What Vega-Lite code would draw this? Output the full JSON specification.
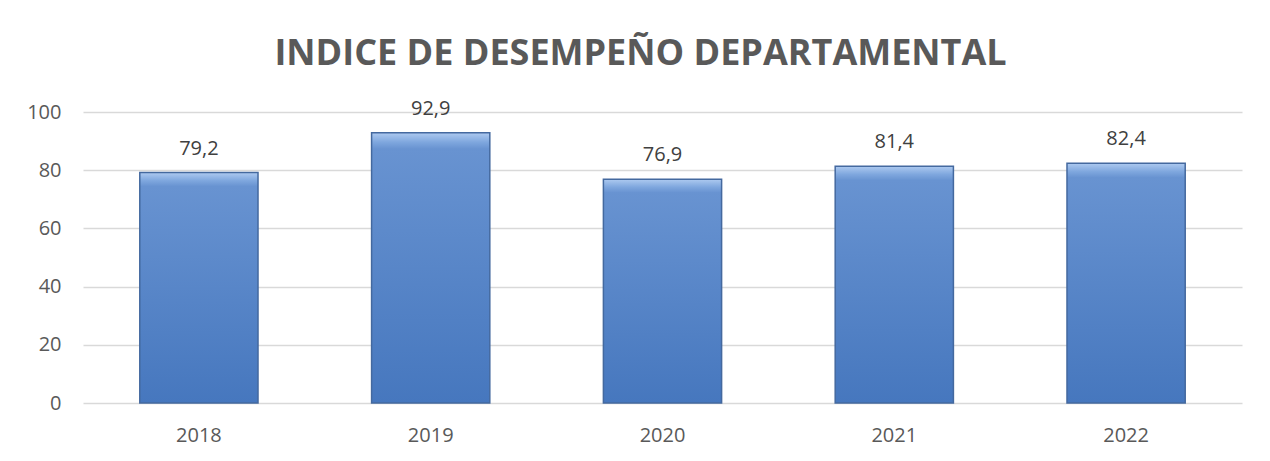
{
  "$schema": "https://vega.github.io/schema/vega-lite/v6.json",
  "autosize": {"type": "none"},
  "width": 1159,
  "height": 291,
  "padding": {"left": 83, "top": 112, "right": 28, "bottom": 58},
  "background": "white",
  "title": {
    "text": "INDICE DE DESEMPEÑO DEPARTAMENTAL",
    "font": "Open Sans",
    "fontSize": 36,
    "fontWeight": "bold",
    "color": "#595959",
    "anchor": "middle",
    "baseline": "alphabetic",
    "offset": -2,
    "dx": -22
  },
  "config": {
    "locale": {"number": {"decimal": ",", "thousands": ".", "grouping": [3], "currency": ["", " €"]}},
    "view": {"stroke": null},
    "font": "Open Sans"
  },
  "data": {
    "values": [
      {"year": "2018", "value": 79.2},
      {"year": "2019", "value": 92.9},
      {"year": "2020", "value": 76.9},
      {"year": "2021", "value": 81.4},
      {"year": "2022", "value": 82.4}
    ]
  },
  "encoding": {
    "x": {
      "field": "year", "type": "nominal", "sort": null,
      "scale": {"paddingInner": 0.49, "paddingOuter": 0.245},
      "axis": {
        "title": null, "labelAngle": 0, "domain": false, "ticks": false,
        "labelFont": "Open Sans", "labelFontSize": 20, "labelColor": "#595959",
        "labelPadding": 22
      }
    },
    "y": {
      "field": "value", "type": "quantitative",
      "scale": {"domain": [0, 100], "nice": false},
      "axis": {
        "title": null, "values": [0, 20, 40, 60, 80, 100], "domain": false, "ticks": false,
        "grid": true, "gridColor": "#d9d9d9", "gridWidth": 1.5,
        "labelFont": "Open Sans", "labelFontSize": 20, "labelColor": "#595959",
        "labelPadding": 22
      }
    }
  },
  "layer": [
    {
      "mark": {
        "type": "bar",
        "stroke": "#44699f",
        "strokeWidth": 1.5,
        "color": {
          "gradient": "linear", "x1": 0, "y1": 0, "x2": 0, "y2": 1,
          "stops": [
            {"offset": 0, "color": "#aecaf0"},
            {"offset": 0.035, "color": "#7fa7de"},
            {"offset": 0.06, "color": "#6893d1"},
            {"offset": 1, "color": "#4677be"}
          ]
        }
      }
    },
    {
      "mark": {
        "type": "text", "baseline": "alphabetic", "dy": -18,
        "font": "Open Sans", "fontSize": 20, "color": "#404040"
      },
      "encoding": {
        "text": {"field": "value", "type": "quantitative", "format": ".1f"}
      }
    }
  ]
}
